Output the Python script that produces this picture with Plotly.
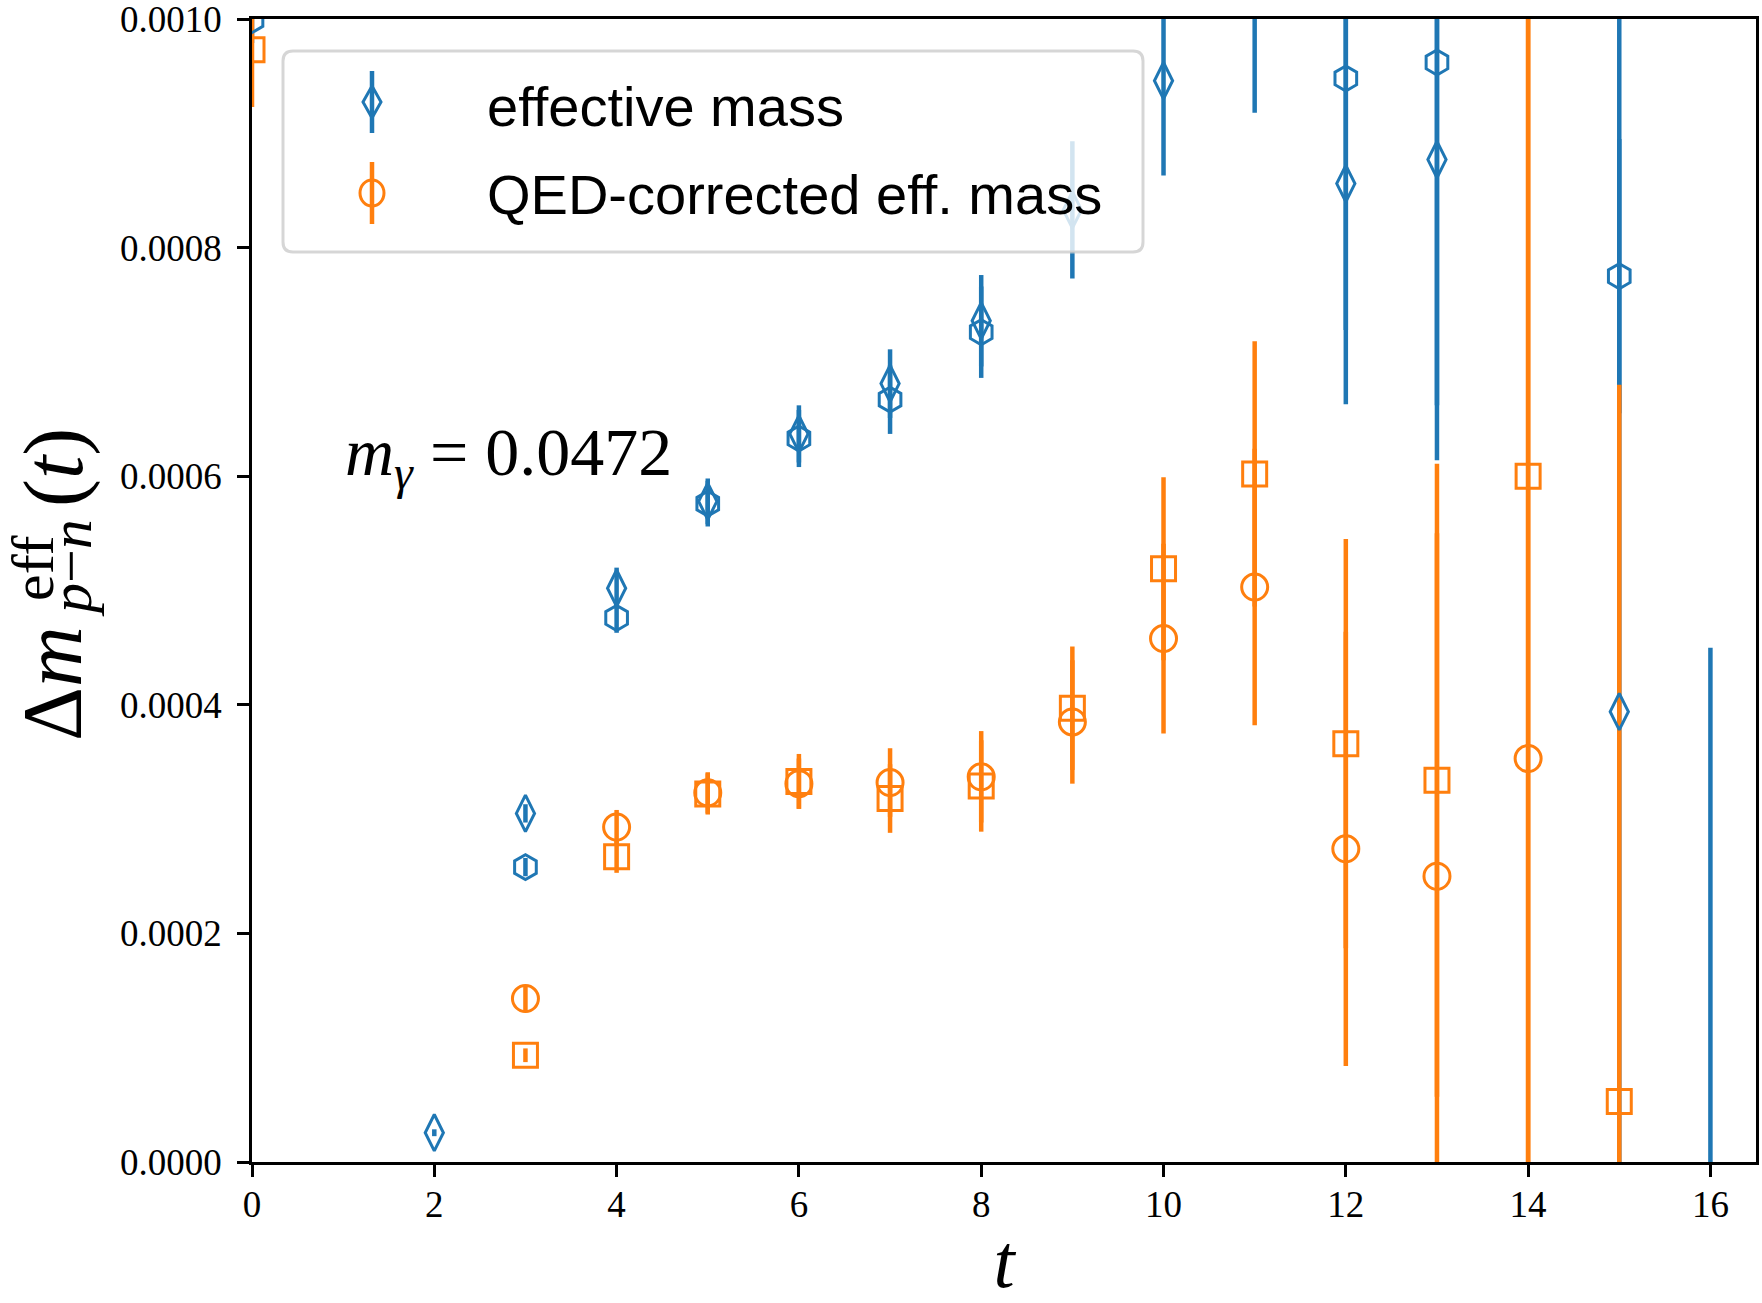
import plotly.graph_objects as go

# ---------------- data ----------------
# effective mass (blue thin diamonds)
t_eff = [2, 3, 4, 5, 6, 7, 8, 9, 10, 11, 12, 13, 15]
m_eff = [0.0000256, 0.000305, 0.000502, 0.000578, 0.000637, 0.000681, 0.000736,
         0.000833, 0.000946, 0.00107, 0.000856, 0.000877, 0.000394]
err_eff = [0.000003, 0.000008, 0.000018, 0.00002, 0.000025, 0.00003, 0.00004,
           0.00006, 0.000083, 0.000152, 0.000193, 0.000263, 0.00066]

# effective mass, second estimator (blue hexagons)
t_hex = [0, 3, 4, 5, 6, 7, 8, 12, 13, 15, 16]
m_hex = [0.000999, 0.000258, 0.000476, 0.000576, 0.000633, 0.000667, 0.000726,
         0.000948, 0.000962, 0.000775, -0.00010]
err_hex = [0.00002, 0.000008, 0.000013, 0.00002, 0.000025, 0.00003, 0.00004,
           0.00022, 0.0003, 0.00012, 0.00055]

# QED-corrected effective mass (orange circles)
t_qed = [3, 4, 5, 6, 7, 8, 9, 10, 11, 12, 13, 14]
m_qed = [0.000143, 0.000293, 0.000323, 0.000331, 0.000332, 0.000337, 0.000385,
         0.000458, 0.000503, 0.000274, 0.000250, 0.000353]
err_qed = [0.000012, 0.000015, 0.000018, 0.000022, 0.00003, 0.00004, 0.000054,
           0.000083, 0.000121, 0.00019, 0.0003, 0.0008]

# QED-corrected effective mass, second estimator (orange squares)
t_sq = [0, 3, 4, 5, 6, 7, 8, 9, 10, 11, 12, 13, 14, 15]
m_sq = [0.000973, 0.0000934, 0.000267, 0.000322, 0.000333, 0.000318, 0.000329,
        0.000397, 0.000519, 0.000602, 0.000366, 0.000334, 0.000600, 0.000053]
err_sq = [0.00005, 0.000006, 0.000014, 0.000018, 0.000024, 0.00003, 0.00004,
          0.000054, 0.00008, 0.000116, 0.000179, 0.000277, 0.0007, 0.000627]

x_ticks = [0, 2, 4, 6, 8, 10, 12, 14, 16]
y_ticks = [0.0, 0.0002, 0.0004, 0.0006, 0.0008, 0.0010]
y_tick_labels = ["0.0000", "0.0002", "0.0004", "0.0006", "0.0008", "0.0010"]
legend_labels = ["effective mass", "QED-corrected eff. mass"]
photon_mass_label = "<i>m</i><sub><i>γ</i></sub> = 0.0472"

# ---------------- styling ----------------
BLUE = "#1f77b4"
ORANGE = "#ff7f0e"
W, H = 1762, 1303
PL, PR, PT, PB = 252, 1756, 19, 1162
SERIF = "Liberation Serif"
SANS = "Liberation Sans"


def px(x):
    return (x - PL) / (PR - PL)


def py(y):
    return (PB - y) / (PB - PT)


series = [
    dict(t=t_eff, m=m_eff, e=err_eff, c=BLUE, sym="diamond-tall-open", size=26, name=legend_labels[0]),
    dict(t=t_hex, m=m_hex, e=err_hex, c=BLUE, sym="hexagon-open", size=25, name="effective mass (2)"),
    dict(t=t_qed, m=m_qed, e=err_qed, c=ORANGE, sym="circle-open", size=26, name=legend_labels[1]),
    dict(t=t_sq, m=m_sq, e=err_sq, c=ORANGE, sym="square-open", size=24, name="QED-corrected eff. mass (2)"),
]

fig = go.Figure()
# error bars first (beneath all markers)
for s in series:
    fig.add_trace(go.Scatter(
        x=s["t"], y=s["m"], mode="markers",
        marker=dict(size=2, opacity=0, color=s["c"]),
        error_y=dict(type="data", array=s["e"], visible=True, width=0,
                     thickness=4.5, color=s["c"]),
        showlegend=False, hoverinfo="skip"))
for s in series:
    fig.add_trace(go.Scatter(
        x=s["t"], y=s["m"], mode="markers", name=s["name"],
        marker=dict(symbol=s["sym"], size=s["size"], color=s["c"],
                    line=dict(width=3, color=s["c"])),
        showlegend=False))

axis_common = dict(showline=True, linecolor="black", linewidth=2.5, mirror=True,
                   ticks="outside", ticklen=12, tickwidth=2.5, tickcolor="black",
                   showgrid=False, zeroline=False, automargin=False,
                   ticklabeloverflow="allow",
                   tickfont=dict(family=SERIF, size=37, color="black"))

fig.update_xaxes(range=[0, 16.5], tickvals=x_ticks, ticklabelstandoff=-4,
                 title=dict(text="<i>t</i>", font=dict(family=SERIF, size=76, color="black"),
                            standoff=25),
                 **axis_common)
fig.update_yaxes(range=[0, 0.001], tickvals=y_ticks, ticktext=y_tick_labels,
                 ticklabelstandoff=8, **axis_common)

# ---------------- custom legend (matplotlib-like frame) ----------------
shapes = []
bx0, bx1, by0, by1, r = 283 - PL, 1143 - PL, -(51 - PT), -(252 - PT), 10
box_path = (f"M{bx0 + r},{by0} L{bx1 - r},{by0} Q{bx1},{by0} {bx1},{by0 - r} "
            f"L{bx1},{by1 + r} Q{bx1},{by1} {bx1 - r},{by1} L{bx0 + r},{by1} "
            f"Q{bx0},{by1} {bx0},{by1 + r} L{bx0},{by0 - r} Q{bx0},{by0} {bx0 + r},{by0} Z")
shapes.append(dict(type="path", xref="paper", yref="paper", xsizemode="pixel",
                   ysizemode="pixel", xanchor=0, yanchor=1, path=box_path,
                   fillcolor="rgba(255,255,255,0.8)",
                   line=dict(color="rgba(204,204,204,0.8)", width=3), layer="above"))

icon_x = 372
for yc, color, kind in [(102, BLUE, "diamond"), (193, ORANGE, "circle")]:
    xa, ya = px(icon_x), py(yc)
    shapes.append(dict(type="line", xref="paper", yref="paper", xsizemode="pixel",
                       ysizemode="pixel", xanchor=xa, yanchor=ya, x0=0, x1=0, y0=-31, y1=31,
                       line=dict(color=color, width=4.5), layer="above"))
    if kind == "diamond":
        shapes.append(dict(type="path", xref="paper", yref="paper", xsizemode="pixel",
                           ysizemode="pixel", xanchor=xa, yanchor=ya,
                           path="M0,16 L9,0 L0,-16 L-9,0 Z",
                           line=dict(color=color, width=3), layer="above"))
    else:
        shapes.append(dict(type="circle", xref="paper", yref="paper", xsizemode="pixel",
                           ysizemode="pixel", xanchor=xa, yanchor=ya,
                           x0=-12, x1=12, y0=-13, y1=13,
                           line=dict(color=color, width=3), layer="above"))

annotations = []
for label, yc in zip(legend_labels, [106, 195]):
    annotations.append(dict(text=label, xref="paper", yref="paper", x=px(485), y=py(yc),
                            xanchor="left", yanchor="middle", showarrow=False,
                            font=dict(family=SANS, size=56, color="black")))

annotations.append(dict(text=photon_mass_label, xref="paper", yref="paper",
                        x=px(343), y=py(456), xanchor="left", yanchor="middle",
                        showarrow=False, font=dict(family=SERIF, size=68, color="black")))

# y-axis label  Δm^{eff}_{p-n}(t), built from rotated pieces
ylabel_parts = [
    ("Δ<i>m</i>", 52, 684, 84),
    ("eff", 33, 568, 60),
    ("<i>p</i>−<i>n</i>", 71, 568, 60),
    ("(<i>t</i>)", 54, 468, 84),
]
for txt, xc, yc, fs in ylabel_parts:
    annotations.append(dict(text=txt, xref="paper", yref="paper", x=px(xc), y=py(yc),
                            xanchor="center", yanchor="middle", textangle=-90,
                            showarrow=False, font=dict(family=SERIF, size=fs, color="black")))

fig.update_layout(width=W, height=H, margin=dict(l=PL, r=W - PR, t=PT, b=H - PB),
                  plot_bgcolor="white", paper_bgcolor="white",
                  shapes=shapes, annotations=annotations, showlegend=False)

fig.write_html("out.html")
